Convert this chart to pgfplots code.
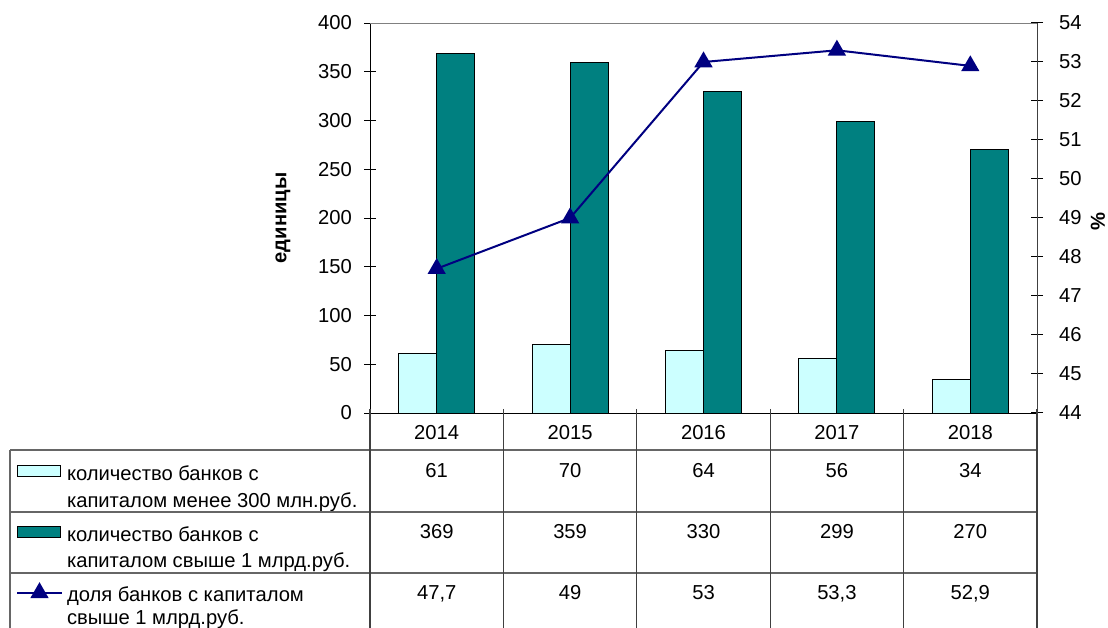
\documentclass[border=0pt]{standalone}
\usepackage{fontspec}
\setmainfont{Liberation Sans}
\usepackage{pgfplots}
\pgfplotsset{compat=1.18}
\definecolor{lcyan}{HTML}{CCFFFF}
\definecolor{dteal}{HTML}{008080}
\definecolor{navy}{HTML}{000080}
\newcommand\fs{\fontsize{10.1}{13}\selectfont}
\pgfplotsset{
  boxlegend/.style={legend image code/.code={\draw[##1] (0pt,-1.5pt) rectangle (21.5pt,4pt);}},
  linelegend/.style={legend image code/.code={\draw[##1, sharp plot, mark repeat=2, mark phase=2] plot coordinates {(0pt,1pt)(11.25pt,1pt)(22.5pt,1pt)};}},
}
\begin{document}
\begin{tikzpicture}
\useasboundingbox (0,0) rectangle (554pt,313.5pt);
\begin{axis}[
  at={(185pt,107pt)}, anchor=south west,
  scale only axis, width=333.5pt, height=195pt,
  xmin=-0.5, xmax=4.5, ymin=0, ymax=400,
  ytick={0,50,...,400},
  xtick={0,1,2,3,4}, xticklabels={2014,2015,2016,2017,2018},
  xtick style={draw=none},
  ybar=0pt, bar width=19pt,
  axis x line*=bottom, axis y line*=left, axis line style={-},
  tick align=center, major tick length=6pt,
  tick style={black, line width=0.5pt},
  /pgf/number format/assume math mode=true,
  ticklabel style={font=\fs},
  xticklabel style={anchor=base, yshift=-10pt},
  yticklabel style={xshift=-2.5pt},
  legend cell align=left,
  legend style={at={(rel axis cs:-0.53073,-0.12769)}, anchor=north west,
    draw=none, fill=none, inner sep=0pt, outer sep=0pt,
    row sep=19.75pt, column sep=2pt, nodes={inner sep=0pt, font=\fs}},
]
\addplot[fill=lcyan, draw=black, line width=0.5pt, boxlegend]
  coordinates {(0,61)(1,70)(2,64)(3,56)(4,34)};
\addlegendentry{\parbox[t]{170pt}{\strut количество банков с\newline капиталом менее 300 млн.руб.\strut}}
\addplot[fill=dteal, draw=black, line width=0.5pt, boxlegend]
  coordinates {(0,369)(1,359)(2,330)(3,299)(4,270)};
\addlegendentry{\parbox[t]{170pt}{\strut количество банков с\newline капиталом свыше 1 млрд.руб.\strut}}
\addlegendimage{navy, line width=1pt, mark=triangle*, mark size=4.3pt, sharp plot, linelegend}
\addlegendentry{\parbox[t]{170pt}{\fontsize{10.1}{11.5}\selectfont\strut доля банков с капиталом\newline свыше 1 млрд.руб.\strut}}
\draw[black!50, line width=0.5pt] (rel axis cs:0,1) -- (rel axis cs:1,1);
\end{axis}
\begin{axis}[
  at={(185pt,107pt)}, anchor=south west,
  scale only axis, width=333.5pt, height=195pt,
  xmin=-0.5, xmax=4.5, ymin=44, ymax=54,
  ytick={44,45,...,54},
  axis y line*=right, axis x line=none, axis line style={-, black!75},
  tick align=center, major tick length=6pt,
  tick style={black, line width=0.5pt},
  /pgf/number format/assume math mode=true,
  ticklabel style={font=\fs},
  yticklabel style={xshift=4.5pt},
]
\addplot[navy, line width=1pt, mark=triangle*, mark size=4.3pt, mark options={solid}]
  coordinates {(0,47.7)(1,49)(2,53)(3,53.3)(4,52.9)};
\end{axis}
% data table frame
\draw[black!60, line width=0.6pt] (5pt,88.5pt) -- (518.5pt,88.5pt)
  (5pt,57.5pt) -- (518.5pt,57.5pt) (5pt,27pt) -- (518.5pt,27pt)
  (5pt,88.5pt) -- (5pt,-2pt);
\foreach \x in {185,251.7,318.4,385.1,451.8,518.5}
  \draw[black!75, line width=0.6pt] (\x pt,109pt) -- (\x pt,-2pt);
\foreach \x/\a/\b/\c in {218.35/61/369/{47,7},285.05/70/359/49,351.75/64/330/53,418.45/56/299/{53,3},485.15/34/270/{52,9}}{
  \node[font=\fs, anchor=base, inner sep=0pt] at (\x pt,75pt) {\a};
  \node[font=\fs, anchor=base, inner sep=0pt] at (\x pt,44.5pt) {\b};
  \node[font=\fs, anchor=base, inner sep=0pt] at (\x pt,14pt) {\c};
}
\node[font=\fs\bfseries, rotate=90] at (141.5pt,204.5pt) {единицы};
\node[font=\fs\bfseries, rotate=90] at (549pt,202.5pt) {\%};
\end{tikzpicture}
\end{document}
